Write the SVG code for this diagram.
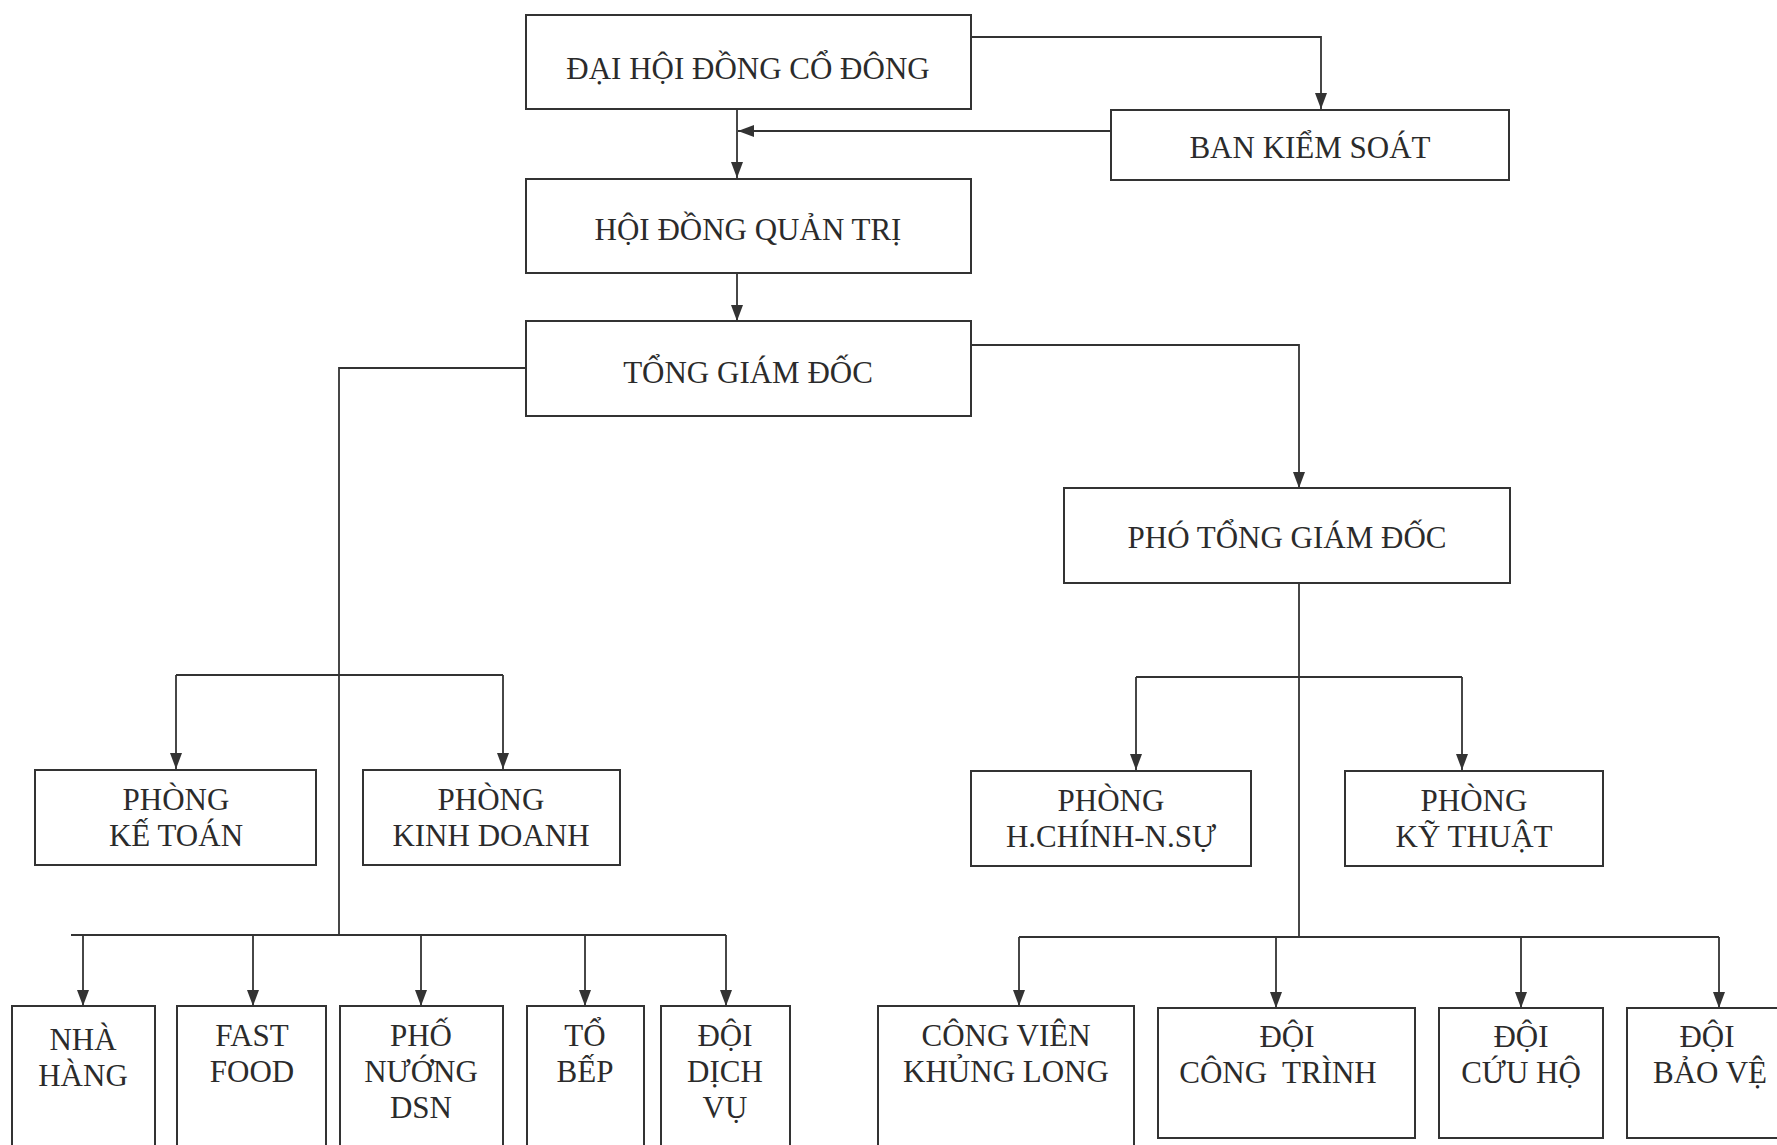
<svg xmlns="http://www.w3.org/2000/svg" width="1777" height="1145" viewBox="0 0 1777 1145">
<style>
.box{fill:#fff;stroke:#333;stroke-width:2}
.lbl{font-family:"Liberation Serif","Times New Roman","DejaVu Serif",serif;font-size:31px;fill:#2b2b2b;text-anchor:middle}
.conn{fill:none;stroke:#333;stroke-width:1.8}
</style>
<defs>
<marker id="arr" markerUnits="userSpaceOnUse" markerWidth="16" markerHeight="12" refX="16" refY="6" orient="auto">
<path d="M0,0 L16,6 L0,12 z" fill="#333"/>
</marker>
</defs>
<rect width="1777" height="1145" fill="#fff"/>
<g id="connectors">
<path class="conn" d="M971,37 H1321 V109" marker-end="url(#arr)"/>
<path class="conn" d="M737,109 V178" marker-end="url(#arr)"/>
<path class="conn" d="M1111,131 H738" marker-end="url(#arr)"/>
<path class="conn" d="M737,273 V321" marker-end="url(#arr)"/>
<path class="conn" d="M525,368 H339 V935"/>
<path class="conn" d="M971,345 H1299 V488" marker-end="url(#arr)"/>
<path class="conn" d="M176,675 H503"/>
<path class="conn" d="M176,675 V769" marker-end="url(#arr)"/>
<path class="conn" d="M503,675 V769" marker-end="url(#arr)"/>
<path class="conn" d="M71,935 H726"/>
<path class="conn" d="M83,935 V1006" marker-end="url(#arr)"/>
<path class="conn" d="M253,935 V1006" marker-end="url(#arr)"/>
<path class="conn" d="M421,935 V1006" marker-end="url(#arr)"/>
<path class="conn" d="M585,935 V1006" marker-end="url(#arr)"/>
<path class="conn" d="M726,935 V1006" marker-end="url(#arr)"/>
<path class="conn" d="M1299,583 V937"/>
<path class="conn" d="M1136,677 H1462"/>
<path class="conn" d="M1136,677 V770" marker-end="url(#arr)"/>
<path class="conn" d="M1462,677 V770" marker-end="url(#arr)"/>
<path class="conn" d="M1019,937 H1719"/>
<path class="conn" d="M1019,937 V1006" marker-end="url(#arr)"/>
<path class="conn" d="M1276,937 V1008" marker-end="url(#arr)"/>
<path class="conn" d="M1521,937 V1008" marker-end="url(#arr)"/>
<path class="conn" d="M1719,937 V1008" marker-end="url(#arr)"/>
</g>
<g id="dhdcd"><rect class="box" x="526" y="15" width="445" height="94"/><text class="lbl" x="748" y="79">ĐẠI HỘI ĐỒNG CỔ ĐÔNG</text></g>
<g id="bks"><rect class="box" x="1111" y="110" width="398" height="70"/><text class="lbl" x="1310" y="158">BAN KIỂM SOÁT</text></g>
<g id="hdqt"><rect class="box" x="526" y="179" width="445" height="94"/><text class="lbl" x="748" y="240">HỘI ĐỒNG QUẢN TRỊ</text></g>
<g id="tgd"><rect class="box" x="526" y="321" width="445" height="95"/><text class="lbl" x="748" y="383">TỔNG GIÁM ĐỐC</text></g>
<g id="ptgd"><rect class="box" x="1064" y="488" width="446" height="95"/><text class="lbl" x="1287" y="548">PHÓ TỔNG GIÁM ĐỐC</text></g>
<g id="ketoan"><rect class="box" x="35" y="770" width="281" height="95"/><text class="lbl" x="176" y="810">PHÒNG</text><text class="lbl" x="176" y="846">KẾ TOÁN</text></g>
<g id="kinhdoanh"><rect class="box" x="363" y="770" width="257" height="95"/><text class="lbl" x="491" y="810">PHÒNG</text><text class="lbl" x="491" y="846">KINH DOANH</text></g>
<g id="hcns"><rect class="box" x="971" y="771" width="280" height="95"/><text class="lbl" x="1111" y="811">PHÒNG</text><text class="lbl" x="1111" y="847">H.CHÍNH-N.SỰ</text></g>
<g id="kythuat"><rect class="box" x="1345" y="771" width="258" height="95"/><text class="lbl" x="1474" y="811">PHÒNG</text><text class="lbl" x="1474" y="847">KỸ THUẬT</text></g>
<g id="nhahang"><rect class="box" x="12" y="1006" width="143" height="160"/><text class="lbl" x="83" y="1050">NHÀ</text><text class="lbl" x="83" y="1086">HÀNG</text></g>
<g id="fastfood"><rect class="box" x="177" y="1006" width="149" height="160"/><text class="lbl" x="252" y="1046">FAST</text><text class="lbl" x="252" y="1082">FOOD</text></g>
<g id="phonuong"><rect class="box" x="340" y="1006" width="163" height="160"/><text class="lbl" x="421" y="1046">PHỐ</text><text class="lbl" x="421" y="1082">NƯỚNG</text><text class="lbl" x="421" y="1118">DSN</text></g>
<g id="tobep"><rect class="box" x="527" y="1006" width="117" height="160"/><text class="lbl" x="585" y="1046">TỔ</text><text class="lbl" x="585" y="1082">BẾP</text></g>
<g id="doidichvu"><rect class="box" x="661" y="1006" width="129" height="160"/><text class="lbl" x="725" y="1046">ĐỘI</text><text class="lbl" x="725" y="1082">DỊCH</text><text class="lbl" x="725" y="1118">VỤ</text></g>
<g id="congvien"><rect class="box" x="878" y="1006" width="256" height="160"/><text class="lbl" x="1006" y="1046">CÔNG VIÊN</text><text class="lbl" x="1006" y="1082">KHỦNG LONG</text></g>
<g id="congtrinh"><rect class="box" x="1158" y="1008" width="257" height="130"/><text class="lbl" x="1287" y="1047">ĐỘI</text><text class="lbl" x="1278" y="1083" xml:space="preserve">CÔNG  TRÌNH</text></g>
<g id="cuuho"><rect class="box" x="1439" y="1008" width="164" height="130"/><text class="lbl" x="1521" y="1047">ĐỘI</text><text class="lbl" x="1521" y="1083">CỨU HỘ</text></g>
<g id="baove"><rect class="box" x="1627" y="1008" width="170" height="130"/><text class="lbl" x="1707" y="1047">ĐỘI</text><text class="lbl" x="1710" y="1083">BẢO VỆ</text></g>
</svg>
